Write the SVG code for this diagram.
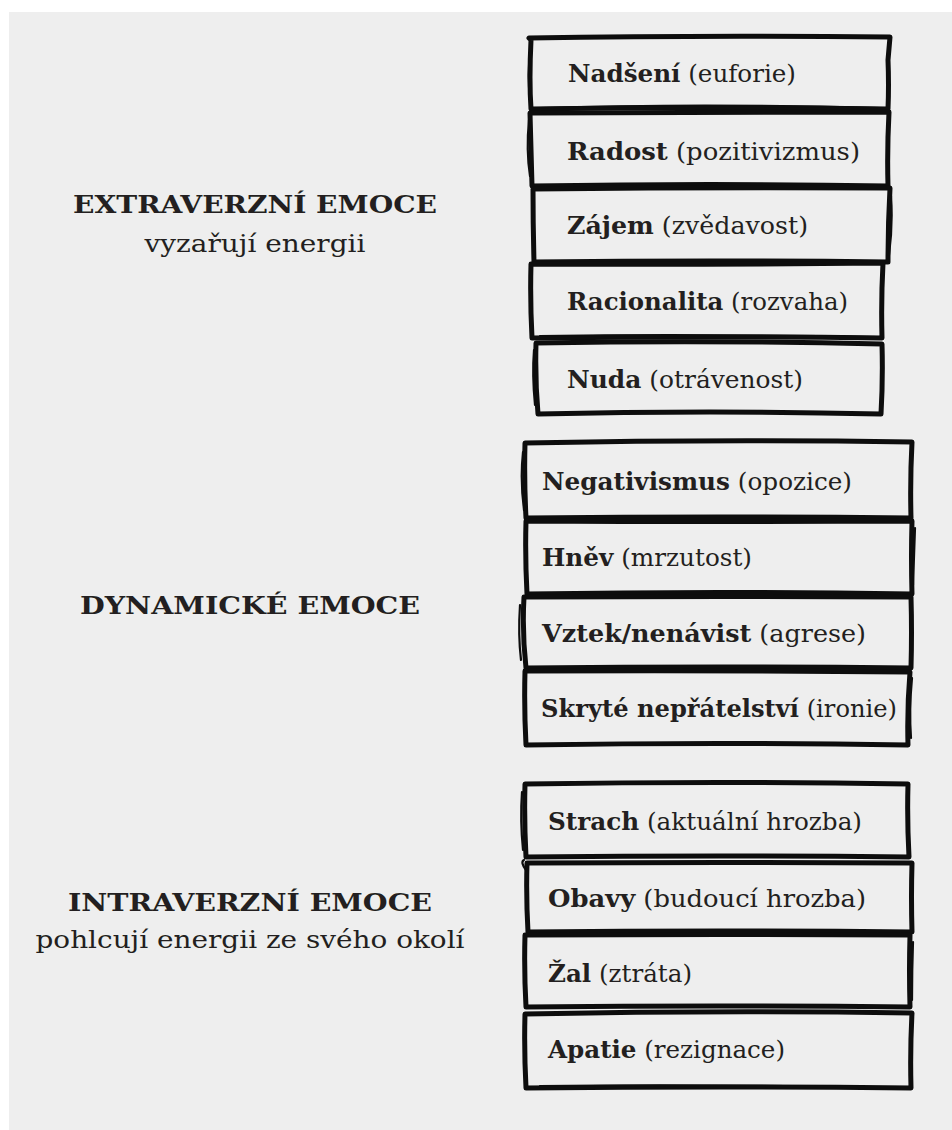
<svg xmlns="http://www.w3.org/2000/svg" width="952" height="1130" viewBox="0 0 952 1130">
<style>
.bg{fill:#eeeeee}
.box{fill:none;stroke:#0d0d0d;stroke-width:5;stroke-linejoin:round;stroke-linecap:round}
.ink{fill:none;stroke:#0d0d0d;stroke-width:2.2;stroke-linecap:round}
.t{font-family:'DejaVu Serif','Liberation Serif',serif;font-size:24.5px;fill:#231f20}
.b{font-weight:700}
.c{text-anchor:middle}
</style>
<rect x="0" y="0" width="952" height="1130" fill="#ffffff"/>
<rect class="bg" x="9" y="12" width="943" height="1118"/>

<g id="title-extraverzni">
<text class="t b c" x="255" y="213" textLength="364" lengthAdjust="spacingAndGlyphs">EXTRAVERZNÍ EMOCE</text>
<text class="t c" x="255" y="252" textLength="221" lengthAdjust="spacingAndGlyphs">vyzařují energii</text>
</g>
<g id="title-dynamicke">
<text class="t b c" x="250" y="614" textLength="340" lengthAdjust="spacingAndGlyphs">DYNAMICKÉ EMOCE</text>
</g>
<g id="title-intraverzni">
<text class="t b c" x="250" y="911" textLength="364" lengthAdjust="spacingAndGlyphs">INTRAVERZNÍ EMOCE</text>
<text class="t c" x="250" y="948" textLength="429" lengthAdjust="spacingAndGlyphs">pohlcují energii ze svého okolí</text>
</g>

<g id="node-nadseni">
<path class="box" d="M529 38 Q700 35 890 37 L888 60 Q889 85 888 109 Q710 106 531 109 Q529 80 531 40 Z"/>
<path class="ink" d="M531 44 Q527 70 530 100 M540 108 Q700 103 880 108"/>
<text class="t" x="568" y="82" textLength="228" lengthAdjust="spacingAndGlyphs"><tspan class="b">Nadšení</tspan> (euforie)</text>
</g>
<g id="node-radost">
<path class="box" d="M530 113 Q710 112 889 112 Q887 150 888 186 Q710 183 532 186 Q531 150 530 113 Z"/>
<path class="ink" d="M529 120 Q526 150 530 176"/>
<text class="t" x="567" y="160" textLength="293" lengthAdjust="spacingAndGlyphs"><tspan class="b">Radost</tspan> (pozitivizmus)</text>
</g>
<g id="node-zajem">
<path class="box" d="M533 189 Q710 187 890 188 Q888 225 888 262 Q710 260 534 262 Q533 225 533 189 Z"/>
<path class="ink" d="M891 196 Q893 225 889 255"/>
<text class="t" x="567" y="234" textLength="241" lengthAdjust="spacingAndGlyphs"><tspan class="b">Zájem</tspan> (zvědavost)</text>
</g>
<g id="node-racionalita">
<path class="box" d="M531 264 Q700 265 883 263 Q881 300 882 338 Q710 336 532 338 Q530 300 531 264 Z"/>
<path class="ink" d="M540 336 Q700 334 876 337"/>
<text class="t" x="567" y="310" textLength="281" lengthAdjust="spacingAndGlyphs"><tspan class="b">Racionalita</tspan> (rozvaha)</text>
</g>
<g id="node-nuda">
<path class="box" d="M536 343 Q710 340 882 344 Q883 380 881 414 Q710 410 538 414 Q535 380 536 343 Z"/>
<path class="ink" d="M534 350 Q532 375 535 405"/>
<text class="t" x="567" y="388" textLength="236" lengthAdjust="spacingAndGlyphs"><tspan class="b">Nuda</tspan> (otrávenost)</text>
</g>

<g id="node-negativismus">
<path class="box" d="M525 443 Q720 439 912 442 Q910 480 911 518 Q720 516 526 518 Q524 480 525 443 Z"/>
<path class="ink" d="M523 452 Q520 480 524 510"/>
<text class="t" x="542" y="490" textLength="310" lengthAdjust="spacingAndGlyphs"><tspan class="b">Negativismus</tspan> (opozice)</text>
</g>
<g id="node-hnev">
<path class="box" d="M526 521 Q720 522 912 521 Q911 557 912 594 Q720 591 527 594 Q525 557 526 521 Z"/>
<path class="ink" d="M915 528 Q914 560 913 585"/>
<text class="t" x="542" y="566" textLength="210" lengthAdjust="spacingAndGlyphs"><tspan class="b">Hněv</tspan> (mrzutost)</text>
</g>
<g id="node-vztek">
<path class="box" d="M524 597 Q720 596 911 597 Q912 632 911 668 Q720 666 526 668 Q522 632 524 597 Z"/>
<path class="ink" d="M520 605 Q518 635 521 660"/>
<text class="t" x="542" y="642" textLength="324" lengthAdjust="spacingAndGlyphs"><tspan class="b">Vztek/nenávist</tspan> (agrese)</text>
</g>
<g id="node-skryte">
<path class="box" d="M525 671 Q720 670 910 672 Q907 708 908 745 Q720 742 526 745 Q524 708 525 671 Z"/>
<path class="ink" d="M912 678 Q909 710 911 738"/>
<text class="t" x="541" y="717" textLength="356" lengthAdjust="spacingAndGlyphs"><tspan class="b">Skryté nepřátelství</tspan> (ironie)</text>
</g>

<g id="node-strach">
<path class="box" d="M525 784 Q720 781 908 784 Q907 820 909 857 Q720 855 526 857 Q524 820 525 784 Z"/>
<path class="ink" d="M522 792 Q520 820 523 850"/>
<text class="t" x="548" y="830" textLength="314" lengthAdjust="spacingAndGlyphs"><tspan class="b">Strach</tspan> (aktuální hrozba)</text>
</g>
<g id="node-obavy">
<path class="box" d="M527 863 Q720 862 912 863 Q911 897 912 932 Q720 930 528 932 Q526 897 527 863 Z"/>
<path class="ink" d="M524 860 Q520 862 526 870"/>
<text class="t" x="548" y="907" textLength="318" lengthAdjust="spacingAndGlyphs"><tspan class="b">Obavy</tspan> (budoucí hrozba)</text>
</g>
<g id="node-zal">
<path class="box" d="M525 935 Q720 934 910 935 Q909 971 910 1007 Q720 1005 526 1007 Q524 971 525 935 Z"/>
<path class="ink" d="M913 942 Q912 970 912 1000"/>
<text class="t" x="548" y="982" textLength="144" lengthAdjust="spacingAndGlyphs"><tspan class="b">Žal</tspan> (ztráta)</text>
</g>
<g id="node-apatie">
<path class="box" d="M525 1014 Q720 1010 912 1013 Q910 1050 911 1088 Q720 1086 526 1088 Q524 1050 525 1014 Z"/>
<path class="ink" d="M540 1086 Q720 1084 900 1088"/>
<text class="t" x="548" y="1058" textLength="237" lengthAdjust="spacingAndGlyphs"><tspan class="b">Apatie</tspan> (rezignace)</text>
</g>

<g id="connectors"></g>
</svg>
